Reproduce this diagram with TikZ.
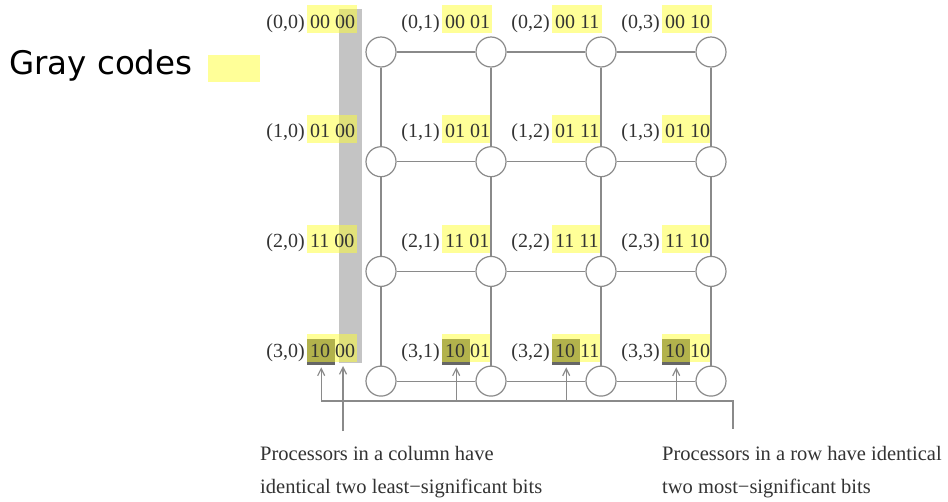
\documentclass[tikz,border=0pt]{standalone}
\usepackage{fontspec}
\setmainfont{Liberation Serif}
\newfontfamily\titlefont{DejaVu Sans}
\usetikzlibrary{arrows.meta,calc}
\definecolor{wire}{HTML}{8A8A8A}
\definecolor{ink}{HTML}{333333}
\definecolor{barfill}{HTML}{C4C4C4}
\definecolor{msbfill}{HTML}{666666}
\definecolor{hilite}{HTML}{FFFF33}

\begin{document}
\begin{tikzpicture}[x=1pt,y=-1pt,
  proc/.style={circle, draw=wire, fill=white, line width=1.2pt, minimum size=30pt, inner sep=0pt},
  link/.style={draw=wire, line width=1.2pt},
  hl/.style={rectangle, fill=hilite, fill opacity=0.5, minimum width=50pt, minimum height=28pt, inner sep=0pt},
  msb/.style={rectangle, fill=msbfill, minimum width=28pt, minimum height=26pt, inner sep=0pt},
  lbl/.style={inner sep=0pt, text=ink, font=\fontsize{20}{24}\selectfont},
  note/.style={inner sep=0pt, text=ink, font=\fontsize{20.5}{24}\selectfont, anchor=base west},
  arr/.style={draw=wire, line width=1.2pt, -{Straight Barb[length=7pt,width=7pt]}}
]
\useasboundingbox (0,0) rectangle (948,501);
\fill[white] (0,0) rectangle (948,501);

% title with its colour key
\node[anchor=base west, inner sep=0pt, text=black, font=\titlefont\fontsize{32.5}{38}\selectfont] (title) at (9,74) {Gray codes};
\node[hl, anchor=north west, minimum width=52pt, minimum height=27pt] (swatch) at (208,55) {};

% band marking the shared low bits of column 0
\fill[barfill] (339,9) rectangle (362,363);

% dark boxes marking the high bits of row 3
\foreach \c in {0,...,3} {
  \pgfmathsetmacro\hx{\c==0 ? 357 : 382+110*\c}
  \node[msb, anchor=north west] (d\c) at (\hx-50,339) {};
}

% processors with their labels and Gray codes
\foreach \r/\gr in {0/00,1/01,2/11,3/10} {
  \foreach \c/\gc in {0/00,1/01,2/11,3/10} {
    \pgfmathsetmacro\px{381+110*\c}
    \pgfmathsetmacro\py{52+109.7*\r}
    \pgfmathsetmacro\hx{\c==0 ? 357 : 382+110*\c}
    \node[proc] (p\r\c) at (\px,\py) {};
    \node[hl, anchor=north east] (h\r\c) at (\hx,\py-47) {};
    \node[lbl, anchor=base west] (k\r\c) at (\hx-47,\py-24) {\gr\ \gc};
    \node[lbl, anchor=base east] (l\r\c) at (\hx-52,\py-24) {(\r,\c)};
  }
}

% mesh links
\foreach \r in {0,...,3} \foreach \c/\n in {0/1,1/2,2/3} \draw[link] (p\r\c) -- (p\r\n);
\foreach \c in {0,...,3} \foreach \r/\n in {0/1,1/2,2/3} \draw[link] (p\r\c) -- (p\n\c);

% rail collecting the row-3 high bits
\coordinate (railEnd) at (733,401);
\coordinate (railDrop) at (733,429);
\foreach \c in {0,...,3} \coordinate (rail\c) at (d\c.south |- railEnd);
\draw[link] (rail0) -- (railEnd) -- (railDrop);
\foreach \c in {0,...,3} \draw[arr] (rail\c) -- ([yshift=-2pt]d\c.south);

% pointer to the column-0 low bits
\coordinate (colTail) at (343,431);
\coordinate (colHead) at (343,366);
\draw[arr] (colTail) -- (colHead);

% captions
\node[note] (nc1) at (260,460) {Processors in a column have};
\node[note] (nc2) at (260,493) {identical two least−significant bits};
\node[note] (nr1) at (662,460) {Processors in a row have identical};
\node[note] (nr2) at (662,493) {two most−significant bits};
\end{tikzpicture}
\end{document}
